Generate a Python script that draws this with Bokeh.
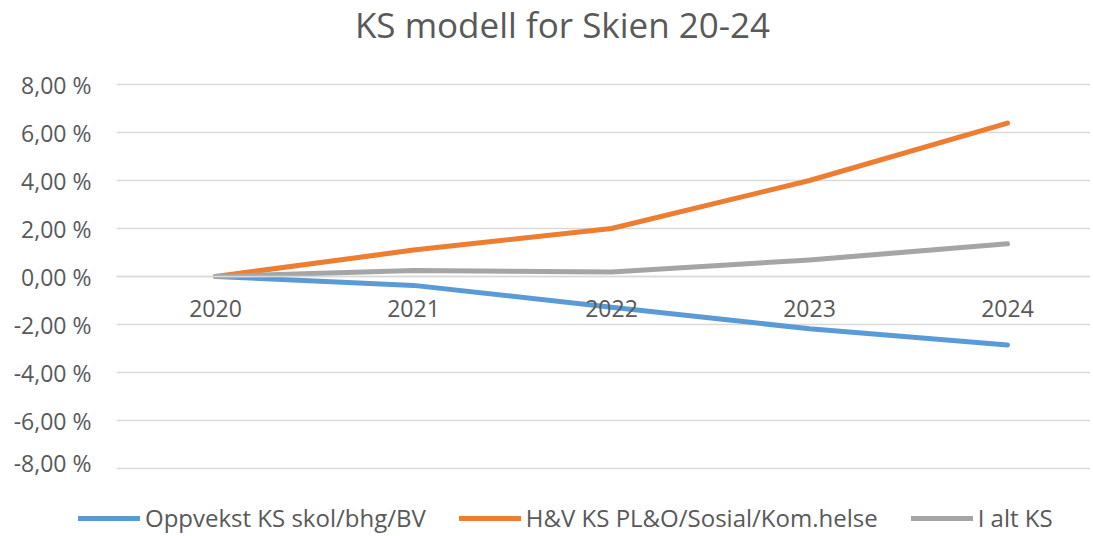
from bokeh.plotting import figure
from bokeh.models import Range1d, FixedTicker, Legend, LegendItem, Label
from bokeh.layouts import column
from bokeh.embed import file_html
from bokeh.resources import INLINE

years = [2020, 2021, 2022, 2023, 2024]
oppvekst = [0.0, -0.37, -1.28, -2.18, -2.85]
hv = [0.0, 1.1, 2.0, 4.0, 6.39]
i_alt = [0.0, 0.25, 0.19, 0.69, 1.36]
series_names = ["Oppvekst KS skol/bhg/BV", "H&V KS PL&O/Sosial/Kom.helse", "I alt KS"]
series_colors = ["#5B9BD5", "#ED7D31", "#A5A5A5"]
y_ticks = [-8, -6, -4, -2, 0, 2, 4, 6, 8]
y_labels = ["-8,00 %", "-6,00 %", "-4,00 %", "-2,00 %", "0,00 %", "2,00 %", "4,00 %", "6,00 %", "8,00 %"]
title_text = "KS modell for Skien 20-24"

FONT = "Open Sans"
TXT = "#595959"
GRID = "#D9D9D9"
W = 1090


def bare(fig):
    fig.frame_align = False
    fig.axis.visible = False
    fig.grid.visible = False
    fig.outline_line_color = None


# title strip
tf = figure(width=W, height=48, output_backend="svg", toolbar_location=None,
            x_range=Range1d(0, 1), y_range=Range1d(0, 1),
            min_border_left=0, min_border_right=0, min_border_top=0, min_border_bottom=0)
bare(tf)
tf.add_layout(Label(x=562, y=24, x_units="screen", y_units="screen", text=title_text,
                    text_align="center", text_baseline="middle", text_font=FONT,
                    text_font_size="35px", text_color=TXT))

# main chart
p = figure(width=W, height=430, output_backend="svg", toolbar_location=None,
           x_range=Range1d(2019.5, 2024.419), y_range=Range1d(-8 - 2 / 24, 8 + 2 / 24),
           min_border_left=116, min_border_right=0, min_border_top=34, min_border_bottom=8)
p.frame_align = False
p.outline_line_color = None
p.background_fill_color = "white"
p.border_fill_color = "white"

# y axis
p.yaxis.ticker = FixedTicker(ticks=y_ticks)
p.yaxis.major_label_overrides = {t: l for t, l in zip(y_ticks, y_labels)}
p.yaxis.axis_line_color = None
p.yaxis.major_tick_line_color = None
p.yaxis.minor_tick_line_color = None
p.yaxis.major_label_standoff = 19
p.yaxis.major_label_text_font = FONT
p.yaxis.major_label_text_font_size = "23px"
p.yaxis.major_label_text_color = TXT
p.ygrid.ticker = FixedTicker(ticks=y_ticks)
p.ygrid.grid_line_color = GRID
p.ygrid.grid_line_width = 1.5

# x axis crossing at zero
p.xaxis.ticker = FixedTicker(ticks=years)
p.xaxis.major_label_overrides = {y: str(y) for y in years}
p.xaxis.fixed_location = 0
p.xaxis.axis_line_color = GRID
p.xaxis.axis_line_width = 1.5
p.xaxis.major_tick_line_color = None
p.xaxis.minor_tick_line_color = None
p.xaxis.major_label_standoff = 17
p.xaxis.major_label_text_font = FONT
p.xaxis.major_label_text_font_size = "23px"
p.xaxis.major_label_text_color = TXT
p.xgrid.grid_line_color = None

for vals, col in zip([oppvekst, hv, i_alt], series_colors):
    p.line(years, vals, line_color=col, line_width=5, line_cap="round", line_join="round")

# legend strip below the chart (series drawn out of view, only legend visible)
lf = figure(width=W, height=56, output_backend="svg", toolbar_location=None,
            x_range=Range1d(0, 1), y_range=Range1d(0, 1),
            min_border_left=0, min_border_right=0, min_border_top=0, min_border_bottom=0)
bare(lf)
items = []
for name, vals, col in zip(series_names, [oppvekst, hv, i_alt], series_colors):
    r = lf.line(years, vals, line_color=col, line_width=5, line_cap="round")
    items.append(LegendItem(label=name, renderers=[r]))
legend = Legend(items=items, orientation="horizontal", location=(78, 0),
                glyph_width=62, glyph_height=20, label_standoff=5, spacing=33,
                padding=0, margin=0, border_line_color=None, background_fill_alpha=0,
                label_text_font=FONT, label_text_font_size="24px", label_text_color=TXT)
lf.add_layout(legend, "center")

layout = column(tf, p, lf, spacing=0)
open("out.html", "w").write(file_html(layout, INLINE))
